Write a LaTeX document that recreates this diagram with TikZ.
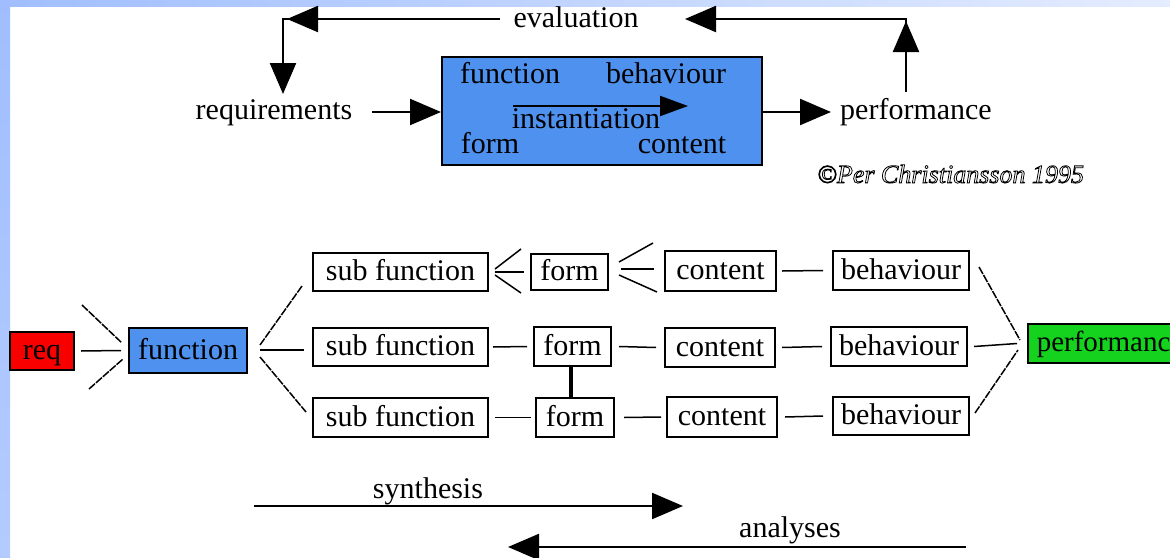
\documentclass[tikz,border=0pt]{standalone}
\usepackage{fontspec}
\setmainfont{Liberation Serif}
\usetikzlibrary{arrows.meta}
\definecolor{bandL}{HTML}{A0BEFF}
\definecolor{bandR}{HTML}{E4ECFF}
\definecolor{bandB}{HTML}{B4CBFF}
\definecolor{modelblue}{HTML}{4F91EE}
\definecolor{reqred}{HTML}{F80000}
\definecolor{perfgreen}{HTML}{14D21E}
\begin{document}
\begin{tikzpicture}[x=1pt,y=-1pt,
  lbl/.style={font=\fontsize{30}{32}\selectfont, inner sep=0pt, anchor=base},
  box/.style={draw, line width=2pt, inner sep=0pt, font=\fontsize{30}{32}\selectfont, text height=21pt, text depth=4pt},
  arr/.style={line width=2.3pt, -{Triangle[length=31pt,width=26pt]}},
  arrs/.style={line width=2pt, -{Triangle[length=28pt,width=20pt]}},
  thk/.style={line width=2.3pt},
  conn/.style={line width=1.5pt},
  jag/.style={line width=1.5pt, dash pattern=on 8pt off 1.2pt},
  vbar/.style={line width=3.5pt}]
\useasboundingbox (0,0) rectangle (1170,557);
\clip (0,0) rectangle (1170,557);
\fill[white] (0,0) rectangle (1170,557);
\shade[left color=bandL, right color=bandR] (0,0) rectangle (1170,6);
\shade[top color=bandL, bottom color=bandB] (0,0) rectangle (10,557);

% ---------- upper diagram ----------
\node[lbl] (eval) at (576,27) {evaluation};
\node[lbl] (reqs) at (274,119) {requirements};
\node[lbl] (perfT) at (916,119) {performance};
\node[draw, line width=2pt, fill=modelblue, minimum width=320pt, minimum height=108pt, inner sep=0pt] (model) at (602,111) {};
\node[lbl] (mfun) at (510,83) {function};
\node[lbl] (mbeh) at (666,83) {behaviour};
\node[lbl] (minst) at (586,128) {instantiation};
\node[lbl] (mform) at (490,153) {form};
\node[lbl] (mcont) at (682,153) {content};
\coordinate (i1) at (513,106);
\coordinate (i2) at (688,106);
\draw[arrs] (i1) -- (i2);

\coordinate (evalL) at (500,19);
\coordinate (tl) at (283,19);
\coordinate (tlTip) at (287,19);
\coordinate (reqTop) at (283,94);
\draw[thk] (evalL) -- (tl);
\draw[arr] (evalL) -- (tlTip);
\draw[arr] ([yshift=1.15pt]tl) -- (reqTop);

\coordinate (perfTop) at (906,92);
\coordinate (tr) at (906,19);
\coordinate (trTip) at (906,21);
\coordinate (evalR) at (685,19);
\draw[arr] (perfTop) -- (trTip);
\draw[thk] (perfTop) -- (tr);
\draw[arr] ([xshift=1.15pt]tr) -- (evalR);

\coordinate (r1) at (372,112);
\coordinate (r2) at (441,112);
\coordinate (q1) at (763,112);
\coordinate (q2) at (831,112);
\draw[arr] (r1) -- (r2);
\draw[arr] (q1) -- (q2);

\node[anchor=west, inner sep=0pt, font=\fontsize{26}{28}\selectfont\itshape, text=black] (copy) at (817,174)
  {\special{pdf:literal 1 Tr 0.8 w}©Per Christiansson 1995\special{pdf:literal 0 Tr}};

% ---------- lower diagram ----------
\node[box, fill=reqred, minimum width=64pt, minimum height=38pt] (req) at (42,351) {req};
\node[box, fill=modelblue, minimum width=118pt, minimum height=45pt] (func) at (188,350.5) {function};

\node[box, minimum width=175pt, minimum height=38pt] (sf1) at (400.5,272) {sub function};
\node[box, minimum width=175pt, minimum height=38pt] (sf2) at (400.5,347) {sub function};
\node[box, minimum width=175pt, minimum height=39pt] (sf3) at (400.5,417.5) {sub function};

\node[box, minimum width=77pt, minimum height=36pt] (fo1) at (569.5,272) {form};
\node[box, minimum width=77pt, minimum height=39pt] (fo2) at (572.5,346.5) {form};
\node[box, minimum width=78pt, minimum height=39pt] (fo3) at (575,417.5) {form};

\node[box, minimum width=111pt, minimum height=40pt] (co1) at (720.5,271) {content};
\node[box, minimum width=110pt, minimum height=39pt] (co2) at (720,347.5) {content};
\node[box, minimum width=110pt, minimum height=40pt] (co3) at (722,417) {content};

\node[box, minimum width=136pt, minimum height=39pt] (be1) at (901,270.5) {behaviour};
\node[box, minimum width=136pt, minimum height=39pt] (be2) at (899,346.5) {behaviour};
\node[box, minimum width=136pt, minimum height=38pt] (be3) at (901,416) {behaviour};

\node[draw, line width=2pt, fill=perfgreen, inner sep=0pt, anchor=west, minimum width=170pt, minimum height=39pt,
      font=\fontsize{29}{31}\selectfont, text height=20pt, text depth=5pt] (perf) at (1027,343.5) {\hspace*{4pt}performance\hspace*{10pt}};

% req -> function fan
\coordinate (a1) at (82,305);  \coordinate (a2) at (122,343);
\coordinate (a3) at (89,389);  \coordinate (a4) at (123,359);
\draw[jag] (a1) -- (a2);
\draw[conn] ([xshift=6pt]req.east) -- ([xshift=-7pt]func.west);
\draw[jag] (a3) -- (a4);

% function -> sub functions
\coordinate (b1) at (260,345); \coordinate (b2) at (302,286);
\coordinate (b3) at (260,357); \coordinate (b4) at (306,412);
\coordinate (b5) at (260,350); \coordinate (b6) at (304,350);
\draw[jag] (b1) -- (b2);
\draw[conn] (b5) -- (b6);
\draw[jag] (b3) -- (b4);

% top row forks
\coordinate (c1) at (495,269); \coordinate (c2) at (521,249);
\coordinate (c3) at (495,272); \coordinate (c4) at (524,272);
\coordinate (c5) at (495,275); \coordinate (c6) at (521,293);
\draw[conn] (c1) -- (c2);
\draw[conn] (c3) -- (c4);
\draw[conn] (c5) -- (c6);

\coordinate (d1) at (619,262); \coordinate (d2) at (653,243);
\coordinate (d3) at (621,269); \coordinate (d4) at (654,269);
\coordinate (d5) at (619,275); \coordinate (d6) at (657,292);
\draw[conn] (d1) -- (d2);
\draw[conn] (d3) -- (d4);
\draw[conn] (d5) -- (d6);

\draw[conn] ([xshift=5pt]co1.east) -- ([xshift=-9pt]be1.west);

% middle row
\draw[conn] ([xshift=4pt]sf2.east) -- ([xshift=-6pt]fo2.west);
\draw[conn] ([xshift=7pt]fo2.east) -- ([xshift=-8pt]co2.west);
\draw[conn] ([xshift=6pt]co2.east) -- ([xshift=-8pt]be2.west);
\draw[conn] ([xshift=6pt]be2.east) -- ([xshift=-10pt]perf.west);

% bottom row
\draw[conn] ([xshift=6pt]sf3.east) -- ([xshift=-4pt]fo3.west);
\draw[conn] ([xshift=9pt]fo3.east) -- ([xshift=-5pt]co3.west);
\draw[conn] ([xshift=7pt]co3.east) -- ([xshift=-9pt]be3.west);

\draw[vbar] ([xshift=-1.5pt]fo2.south) -- ([xshift=-4pt]fo3.north);

% behaviour -> performance fan
\coordinate (p1) at (979,267); \coordinate (p2) at (1020,340);
\coordinate (p3) at (975,413); \coordinate (p4) at (1018,350);
\draw[jag] (p1) -- (p2);
\draw[jag] (p3) -- (p4);

% synthesis / analyses
\node[lbl] (syn) at (428,498) {synthesis};
\node[lbl] (ana) at (790,537) {analyses};
\coordinate (s1) at (254,506); \coordinate (s2) at (683,506);
\coordinate (n1) at (966,547); \coordinate (n2) at (508,547);
\draw[arr] (s1) -- (s2);
\draw[arr] (n1) -- (n2);
\end{tikzpicture}
\end{document}
